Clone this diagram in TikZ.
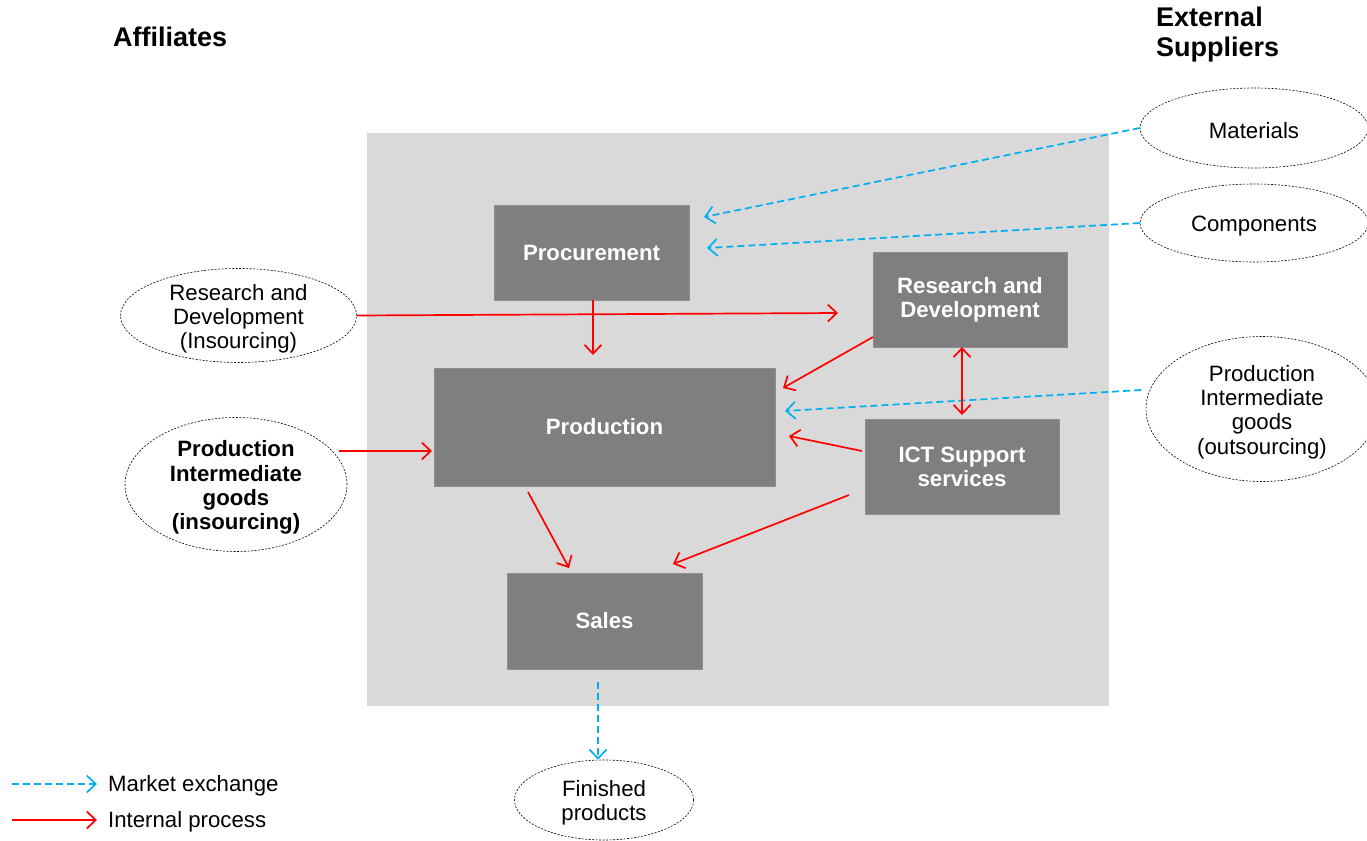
\documentclass[tikz,border=0pt]{standalone}
\usepackage{fontspec}
\setmainfont{Liberation Sans}
\usetikzlibrary{arrows.meta,shapes.geometric}
\definecolor{bgray}{HTML}{D9D9D9}
\definecolor{boxgray}{HTML}{7F7F7F}
\definecolor{boxline}{HTML}{8E8E8E}
\definecolor{mblue}{HTML}{00B0F0}
\definecolor{ired}{HTML}{FF0000}
\tikzset{
  unitbox/.style={draw=boxline, line width=1pt, fill=boxgray, text=white, font=\fontsize{22.2}{24.5}\selectfont\bfseries, align=center, inner sep=0pt},
  ell/.style={ellipse, draw=black, line width=0.6pt, dash pattern=on 2pt off 1.5pt, inner sep=0pt, fill=white},
  elltext/.style={font=\fontsize{22.2}{24.2}\selectfont, align=center, yshift=-3pt},
  title/.style={font=\fontsize{27}{30}\selectfont\bfseries, align=left, anchor=north west, inner sep=0pt},
  tip/.style={-{Straight Barb[length=9pt,width=17pt]}},
  market/.style={draw=mblue, line width=1.7pt, dash pattern=on 7pt off 4pt, tip},
  internal/.style={draw=ired, line width=1.7pt, tip},
  internalboth/.style={draw=ired, line width=1.7pt, {Straight Barb[length=9pt,width=17pt]}-{Straight Barb[length=9pt,width=17pt]}},
  legtext/.style={font=\fontsize{22.2}{24}\selectfont, anchor=west, inner sep=0pt}
}
\begin{document}
\begin{tikzpicture}[x=1pt,y=-1pt]
\useasboundingbox (0,0) rectangle (1367,840);
\fill[white] (0,0) rectangle (1367,840);
% firm area
\fill[bgray] (367,133) rectangle (1109,706);

% titles
\node[title] (aff) at (113,27) {Affiliates};
\node[title] (ext) at (1156,7) {External\\Suppliers};

% units
\node[unitbox, minimum width=195pt, minimum height=95pt] (proc) at (591.5,252.5) {\raisebox{-1.5pt}{Procurement}};
\node[unitbox, minimum width=194pt, minimum height=95pt] (rd) at (970,300) {Research and\\Development};
\node[unitbox, minimum width=341pt, minimum height=118pt] (prod) at (604.5,427) {\raisebox{-1.5pt}{Production}};
\node[unitbox, minimum width=194pt, minimum height=95pt] (ict) at (962,467) {ICT Support\\services};
\node[unitbox, minimum width=195pt, minimum height=96pt] (sales) at (604.5,621) {\raisebox{-1.5pt}{Sales}};

% ellipses
\node[ell, minimum width=228pt, minimum height=80pt, label={[elltext]center:Materials}] (mat) at (1254,128) {};
\node[ell, minimum width=228pt, minimum height=78pt, label={[elltext]center:Components}] (comp) at (1254,223) {};
\node[ell, minimum width=232pt, minimum height=145pt, label={[elltext]center:Production\\Intermediate\\goods\\(outsourcing)}] (pigo) at (1262,409) {};
\node[ell, minimum width=236pt, minimum height=94pt, label={[elltext]center:Research and\\Development\\(Insourcing)}] (rdi) at (238.5,315.5) {};
\node[ell, minimum width=222pt, minimum height=134pt, label={[elltext,font=\fontsize{22.2}{24.2}\selectfont\bfseries]center:Production\\Intermediate\\goods\\(insourcing)}] (pigi) at (236,484.5) {};
\node[ell, minimum width=179pt, minimum height=80pt, label={[elltext]center:Finished\\products}] (fin) at (604,800) {};

% free ends of connectors
\coordinate (procA) at (704,217);
\coordinate (procB) at (707,248);
\coordinate (pigoS) at (1141,390);
\coordinate (prodO) at (785,411);
\coordinate (rdIn) at (838,313);
\coordinate (procS) at (593,300);
\coordinate (prodT) at (593,355);
\coordinate (rdS) at (873,337);
\coordinate (prodR1) at (783,388);
\coordinate (rdB) at (962,347);
\coordinate (ictT) at (962,415);
\coordinate (ictW) at (862,451);
\coordinate (prodR2) at (789,436);
\coordinate (pigiE) at (339,451);
\coordinate (prodW) at (432,451);
\coordinate (prodB) at (528,492);
\coordinate (salesT1) at (569,568);
\coordinate (ictS) at (849,495);
\coordinate (salesT2) at (673,564);
\coordinate (salesB) at (598,682);

% market exchange
\draw[market] (mat.west) -- (procA);
\draw[market] (comp.west) -- (procB);
\draw[market] (pigoS) -- (prodO);
\draw[market] (salesB) -- (fin.north -| salesB);

% internal process
\draw[internal] (rdi.east) -- (rdIn);
\draw[internal] (procS) -- (prodT);
\draw[internal] (rdS) -- (prodR1);
\draw[internalboth] (rdB) -- (ictT);
\draw[internal] (ictW) -- (prodR2);
\draw[internal] (pigiE) -- (prodW);
\draw[internal] (prodB) -- (salesT1);
\draw[internal] (ictS) -- (salesT2);

% legend
\coordinate (lm1) at (12,784);
\coordinate (lm2) at (97,784);
\coordinate (li1) at (12,820);
\coordinate (li2) at (97,820);
\draw[market] (lm1) -- (lm2);
\draw[internal] (li1) -- (li2);
\node[legtext] (lmt) at (108,786) {Market exchange};
\node[legtext] (lit) at (108,822) {Internal process};
\end{tikzpicture}
\end{document}
